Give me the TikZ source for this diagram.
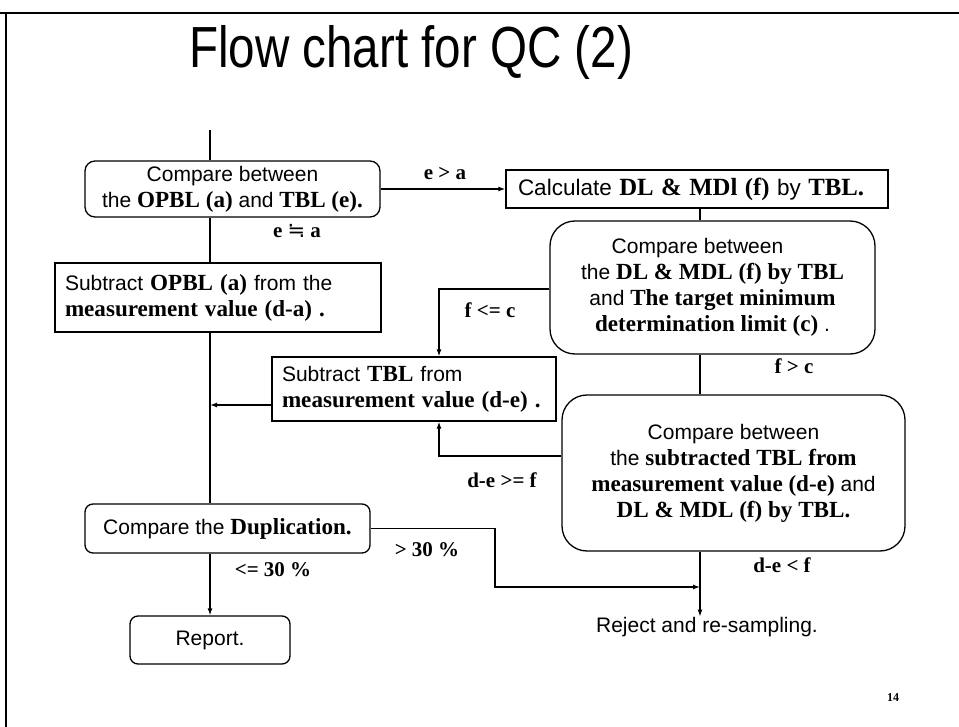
\documentclass[tikz,border=0pt]{standalone}
\usepackage{fontspec}
\setmainfont{Liberation Sans}
\newfontfamily\tnr{Liberation Serif}[Scale=1.1]
\newfontfamily\lbl{Liberation Serif}
\newfontfamily\djv{DejaVu Sans}
\usetikzlibrary{arrows.meta}
\newcommand{\B}[1]{{\tnr\bfseries #1}}
\begin{document}
\begin{tikzpicture}[x=1pt,y=-1pt,line width=1.3pt,
  font=\fontsize{21}{26}\selectfont,
  box/.style={draw,line width=1.3pt,inner sep=0pt,align=center},
  lbox/.style={draw,line width=1.3pt,inner ysep=0pt,inner xsep=10pt,align=left},
  lab/.style={font=\fontsize{21}{24}\lbl\bfseries,inner sep=0pt},
  arr/.style={-{Latex[length=7pt,width=5pt]}}]
\useasboundingbox (0,0) rectangle (959,727);
% slide frame
\draw[line width=1.5pt] (0,13) -- (959,13);
\draw[line width=1.5pt] (6,13) -- (6,727);
% title
\node[font=\fontsize{58}{60}\selectfont,inner sep=0pt] (title) at (411,52) {\scalebox{0.82}[1]{Flow chart for QC (2)}};
% boxes
\node[box,rounded corners=10pt,minimum width=295pt,minimum height=56pt] (A) at (232.5,189)
  {Compare between\\the \B{OPBL (a)} and \B{TBL (e).}};
\node[lbox,minimum width=382pt,minimum height=38pt,text width=358pt,inner xsep=12pt,font=\fontsize{22.5}{27}\selectfont] (B) at (697,189)
  {Calculate \B{DL \& MDl (f)} by \B{TBL.}};
\node[box,rounded corners=25pt,minimum width=325pt,minimum height=133pt] (C) at (712.5,287.5)
  {Compare between\hspace*{30pt}\\the \B{DL \& MDL (f) by TBL}\\and \B{The target minimum}\\\B{determination limit (c)} .};
\node[lbox,minimum width=326pt,minimum height=69pt,text width=306pt] (D) at (218,297.5)
  {Subtract \B{OPBL (a)} from the\\\B{measurement value (d-a) .}};
\node[lbox,minimum width=284pt,minimum height=64pt,text width=264pt] (E) at (414,389)
  {Subtract \B{TBL} from\\\B{measurement value (d-e) .}};
\node[box,rounded corners=25pt,minimum width=343pt,minimum height=156pt] (C2) at (733.5,473)
  {Compare between\\the \B{subtracted TBL from}\\\B{measurement value (d-e)} and\\\B{DL \& MDL (f) by TBL.}};
\node[box,rounded corners=8pt,minimum width=285pt,minimum height=49pt] (Dup) at (227.5,528.5)
  {Compare the \B{Duplication.}};
\node[box,rounded corners=8pt,minimum width=160pt,minimum height=48pt] (Rep) at (210,640)
  {Report.};
\node[inner sep=0pt] (Rej) at (707,627) {Reject and re-sampling.};
% helper coordinates
\coordinate (top) at (210,130);
\coordinate (v) at (700,0);
\coordinate (y405) at (0,405);
\coordinate (k1) at (439,456);
\coordinate (k2) at (439,289);
\coordinate (k3) at (495,587);
% connectors
\draw (top) -- (A.north -| top);
\draw (A.south -| top) -- (D.north -| top);
\draw (D.south -| top) -- (Dup.north -| top);
\draw[arr] (Dup.south -| top) -- (Rep.north);
\draw[arr] (A.east) -- (B.west);
\draw (B.south -| v) -- (C.north -| v);
\draw (C.south -| v) -- (C2.north -| v);
\draw[arr] (C.west |- k2) -- (k2) -- (k2 |- E.north);
\draw[arr] (C2.west |- k1) -- (k1) -- (k1 |- E.south);
\draw[arr] (E.west |- y405) -- (top |- y405);
\draw[arr] (C2.south -| v) -- (Rej.north -| v);
\draw[arr] (Dup.east) -- (Dup.east -| k3) -- (k3) -- (k3 -| v);
% labels
\node[lab] (l1) at (445,173) {e > a};
\node[lab] (l2) at (297,231) {e {\djv\mdseries ≒} a};
\node[lab] (l3) at (490,310) {f <= c};
\node[lab] (l4) at (794,366) {f > c};
\node[lab] (l5) at (502,480) {d-e >= f};
\node[lab] (l6) at (427,550) {> 30 \%};
\node[lab] (l7) at (273,570) {<= 30 \%};
\node[lab] (l8) at (782,565) {d-e < f};
\node[font=\fontsize{12}{14}\lbl\bfseries,inner sep=0pt] (pg) at (893,698) {14};
\end{tikzpicture}
\end{document}
